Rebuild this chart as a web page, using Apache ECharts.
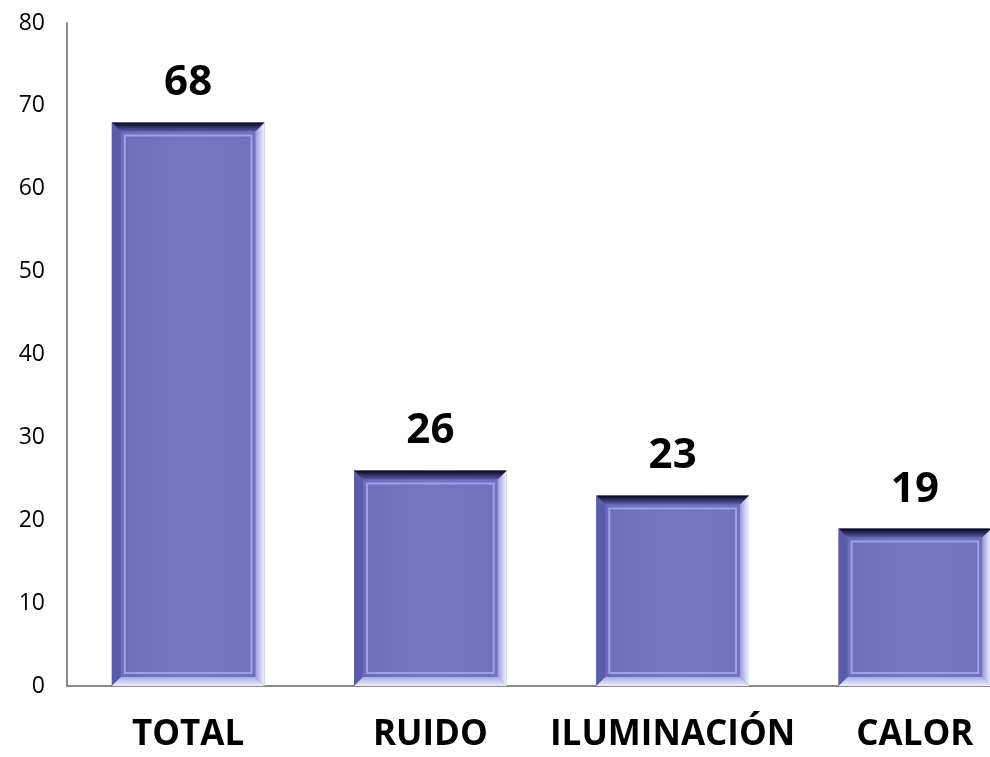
<!DOCTYPE html>
<html>
<head>
<meta charset="utf-8">
<script src="https://cdn.jsdelivr.net/npm/echarts@6/dist/echarts.min.js"></script>
<style>
  html, body { margin: 0; padding: 0; background: #fff; }
  #main { width: 990px; height: 757px; }
</style>
</head>
<body>
<div id="main"></div>
<script>
var categories = ['TOTAL', 'RUIDO', 'ILUMINACIÓN', 'CALOR'];
var values = [68, 26, 23, 19];
var yTicks = [0, 10, 20, 30, 40, 50, 60, 70, 80];

var myChart = echarts.init(document.getElementById('main'));

// barra con biselado tipo Excel
function renderBar(params, api) {
    var top = api.coord([api.value(0), api.value(1)]);
    var base = api.coord([api.value(0), 0]);
    var w = api.size([1, 0])[0] * 0.63;
    var x0 = top[0] - w / 2, x1 = top[0] + w / 2;
    var y0 = top[1], y1 = base[1];
    var b = 9;
    return {
        type: 'group',
        children: [
            { type: 'rect', shape: { x: x0, y: y0, width: w, height: y1 - y0 },
              style: { fill: new echarts.graphic.LinearGradient(0, 0, 1, 0, [
                  { offset: 0, color: '#6b6cbb' }, { offset: 0.5, color: '#7476c4' }, { offset: 1, color: '#6f70c0' }]) } },
            { type: 'polygon', shape: { points: [[x0, y0], [x0 + b, y0 + b], [x0 + b, y1 - b], [x0, y1]] },
              style: { fill: '#5a5bab' } },
            { type: 'polygon', shape: { points: [[x1, y0], [x1, y1], [x1 - b, y1 - b], [x1 - b, y0 + b]] },
              style: { fill: new echarts.graphic.LinearGradient(0, 0, 1, 0, [
                  { offset: 0, color: '#9a9be0' }, { offset: 1, color: '#f4f4ff' }]) } },
            { type: 'polygon', shape: { points: [[x0, y1], [x1, y1], [x1 - b, y1 - b], [x0 + b, y1 - b]] },
              style: { fill: new echarts.graphic.LinearGradient(0, 0, 0, 1, [
                  { offset: 0, color: '#a8a9ea' }, { offset: 1, color: '#eeeeff' }]) } },
            { type: 'polygon', shape: { points: [[x0, y0], [x1, y0], [x1 - b, y0 + b], [x0 + b, y0 + b]] },
              style: { fill: new echarts.graphic.LinearGradient(0, 0, 0, 1, [
                  { offset: 0, color: '#05051a' }, { offset: 1, color: '#5c5da8' }]) } },
            { type: 'rect', shape: { x: x0 + b + 4, y: y0 + b + 4, width: w - 2 * b - 8, height: y1 - y0 - 2 * b - 8 },
              style: { fill: null, stroke: '#9fa0e6', lineWidth: 2 } },
            { type: 'text', x: top[0], y: y0 - 18,
              style: { text: String(api.value(1)), align: 'center', verticalAlign: 'bottom',
                       fill: '#000', font: 'bold 42px "Open Sans"' } }
        ]
    };
}

myChart.setOption({
    animation: false,
    backgroundColor: '#fff',
    grid: { left: 67, top: 23, width: 969, height: 663, outerBoundsMode: 'none' },
    xAxis: {
        type: 'category',
        data: categories,
        axisTick: { show: false },
        axisLine: { lineStyle: { color: '#888', width: 2 } },
        axisLabel: { interval: 0, hideOverlap: false, color: '#000', fontFamily: 'Open Sans',
                     fontWeight: 'bold', fontSize: 35, margin: 32 }
    },
    yAxis: {
        type: 'value',
        min: yTicks[0],
        max: yTicks[yTicks.length - 1],
        interval: 10,
        splitLine: { show: false },
        axisTick: { show: false },
        axisLine: { show: true, lineStyle: { color: '#888', width: 2 } },
        axisLabel: { color: '#000', fontFamily: 'Open Sans', fontSize: 23, margin: 22 }
    },
    series: [{
        type: 'custom',
        renderItem: renderBar,
        encode: { x: 0, y: 1 },
        data: values.map(function (v, i) { return [i, v]; })
    }]
});
</script>
</body>
</html>
